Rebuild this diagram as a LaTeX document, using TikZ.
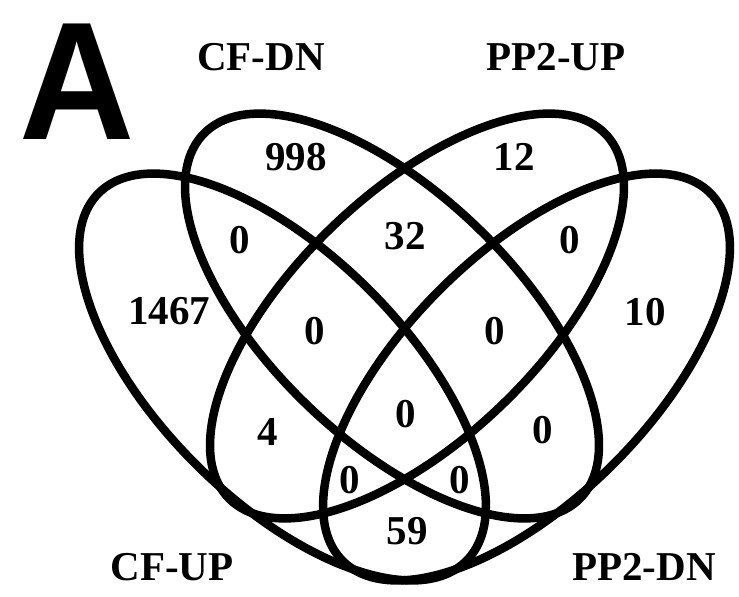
\documentclass[tikz,border=0pt]{standalone}
\usepackage{fontspec}
\usepackage{graphicx}
\setmainfont{Liberation Serif}
\newfontfamily\bigsans{Liberation Sans}
\begin{document}
\begin{tikzpicture}[x=1pt,y=1pt,
  venn/.style={line width=8.5pt, draw=black},
  num/.style={inner sep=0pt, font=\fontsize{41}{41}\selectfont\bfseries},
  cat/.style={inner sep=0pt, font=\fontsize{41}{41}\selectfont\bfseries},
  panel/.style={inner sep=0pt, font=\bigsans\fontsize{168}{168}\selectfont\bfseries}]
\useasboundingbox (0,0) rectangle (739,-597);
% ellipse centres
\coordinate (cCFUP) at (282.5,-377);
\coordinate (cPPDN) at (526.5,-377);
\coordinate (cCFDN) at (392,-316);
\coordinate (cPPUP) at (417,-316);
% ellipses
\draw[venn, rotate around={-45:(cCFUP)}] (cCFUP) ellipse [x radius=260pt, y radius=123pt];
\draw[venn, rotate around={45:(cPPDN)}] (cPPDN) ellipse [x radius=260pt, y radius=123pt];
\draw[venn, rotate around={-44:(cCFDN)}] (cCFDN) ellipse [x radius=262pt, y radius=123pt];
\draw[venn, rotate around={44:(cPPUP)}] (cPPUP) ellipse [x radius=262pt, y radius=123pt];
% panel letter
\node[panel] (pA) at (77,-82) {\scalebox{0.95}[1]{A}};
% category labels
\node[cat] (lCFDN) at (261,-57) {CF-DN};
\node[cat] (lPPUP) at (556,-57) {PP2-UP};
\node[cat] (lCFUP) at (172,-567) {CF-UP};
\node[cat] (lPPDN) at (644,-567) {PP2-DN};
% counts
\node[num] (n998) at (296,-157) {998};
\node[num] (n12) at (514,-157) {12};
\node[num] (n0a) at (240,-240) {0};
\node[num] (n32) at (405,-236) {32};
\node[num] (n0b) at (570,-240) {0};
\node[num] (n1467) at (169,-311) {1467};
\node[num] (n0c) at (315,-331) {0};
\node[num] (n0d) at (495,-331) {0};
\node[num] (n10) at (645,-312) {10};
\node[num] (n4) at (268,-432) {4};
\node[num] (n0e) at (406,-414) {0};
\node[num] (n0f) at (543,-430) {0};
\node[num] (n0g) at (350,-480) {0};
\node[num] (n0h) at (460,-480) {0};
\node[num] (n59) at (407,-531) {59};
\end{tikzpicture}
\end{document}
